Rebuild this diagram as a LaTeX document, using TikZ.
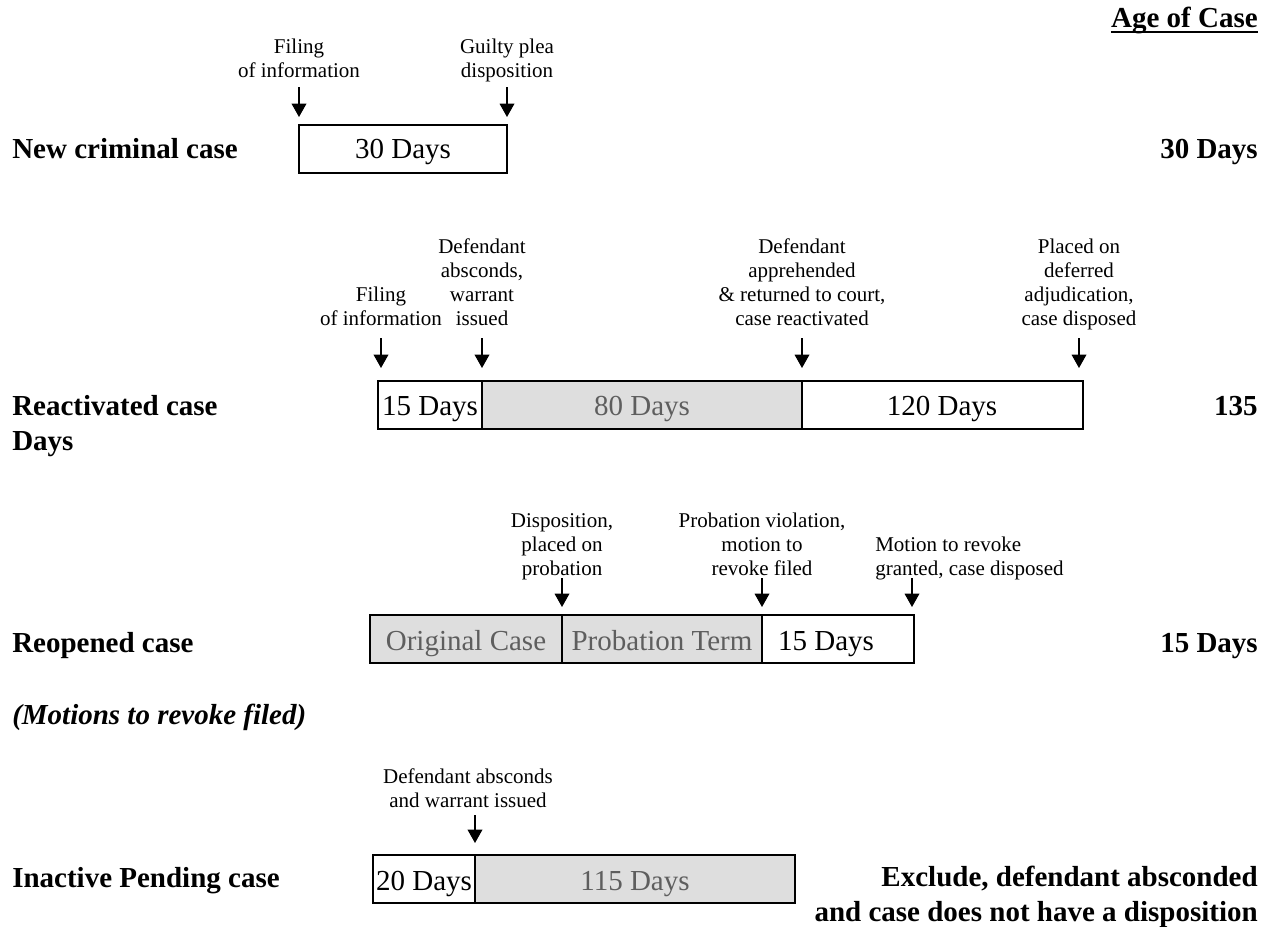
\documentclass[tikz,border=0pt]{standalone}
\usepackage{fontspec}
\setmainfont{Liberation Serif}
\usetikzlibrary{arrows.meta}
\definecolor{cellgray}{HTML}{DEDEDE}
\definecolor{daygray}{HTML}{5E5E5E}
\begin{document}
\begin{tikzpicture}[x=0.75pt,y=-0.75pt,
  lbl/.style={align=center,anchor=base,inner sep=0pt,font=\fontsize{15.75}{18}\selectfont},
  big/.style={anchor=base,inner sep=0pt,font=\fontsize{21.75}{26.25}\selectfont},
  hd/.style={anchor=base west,inner sep=0pt,font=\fontsize{21.75}{26.25}\selectfont\bfseries},
  age/.style={anchor=base east,inner sep=0pt,align=right,font=\fontsize{21.75}{26.25}\selectfont\bfseries},
  cell/.style={draw,line width=1.2pt},
  shade/.style={cell,fill=cellgray},
  pointer/.style={line width=1pt,-{Triangle[width=11pt,length=10pt]}}]
\useasboundingbox (0,0) rectangle (1272,926);
\node[age] (agehd) at (1258,27) {Age of Case};
\draw[line width=1.8pt] ([yshift=-3.8pt]agehd.base west) -- ([yshift=-3.8pt]agehd.base east);
% new criminal case
\node[hd] (newcase) at (12,158) {New criminal case};
\node[age] (newage) at (1258,158) {30 Days};
\draw[cell] (299,125) rectangle (507,173);
\node[big] (new30) at (403,158) {30 Days};
\node[lbl] (newfile) at (299,77) {Filing\\of information};
\node[lbl] (newplea) at (507,77) {Guilty plea\\disposition};
\coordinate (n1a) at (299,87); \coordinate (n1b) at (299,117);
\coordinate (n2a) at (507,87); \coordinate (n2b) at (507,117);
\draw[pointer] (n1a) -- (n1b);
\draw[pointer] (n2a) -- (n2b);
% reactivated case
\node[hd,align=left] (reactcase) at (12,450) {Reactivated case\\Days};
\node[age] (reactage) at (1258,415) {135};
\draw[cell] (378,381) rectangle (482,429);
\draw[shade] (482,381) rectangle (802,429);
\draw[cell] (802,381) rectangle (1083,429);
\node[big] (react15) at (430,415) {15 Days};
\node[big,text=daygray] (react80) at (642,415) {80 Days};
\node[big] (react120) at (942,415) {120 Days};
\node[lbl] (reactfile) at (381,325) {Filing\\of information};
\node[lbl] (reactabs) at (482,325) {Defendant\\absconds,\\warrant\\issued};
\node[lbl] (reactback) at (802,325) {Defendant\\apprehended\\\& returned to court,\\case reactivated};
\node[lbl] (reactdef) at (1079,325) {Placed on\\deferred\\adjudication,\\case disposed};
\coordinate (r1a) at (381,338); \coordinate (r1b) at (381,368);
\coordinate (r2a) at (482,338); \coordinate (r2b) at (482,368);
\coordinate (r3a) at (802,338); \coordinate (r3b) at (802,368);
\coordinate (r4a) at (1079,338); \coordinate (r4b) at (1079,368);
\draw[pointer] (r1a) -- (r1b);
\draw[pointer] (r2a) -- (r2b);
\draw[pointer] (r3a) -- (r3b);
\draw[pointer] (r4a) -- (r4b);
% reopened case
\node[hd] (opencase) at (12,652) {Reopened case};
\node[age] (openage) at (1258,652) {15 Days};
\draw[shade] (370,615) rectangle (562,663);
\draw[shade] (562,615) rectangle (762,663);
\draw[cell] (762,615) rectangle (914,663);
\node[big,text=daygray] (openorig) at (466,650) {Original Case};
\node[big,text=daygray] (openterm) at (662,650) {Probation Term};
\node[big] (open15) at (826,650) {15 Days};
\node[lbl] (openprob) at (562,575) {Disposition,\\placed on\\probation};
\node[lbl] (openviol) at (762,575) {Probation violation,\\motion to\\revoke filed};
\node[lbl,align=left,anchor=base west] (opengrant) at (875,575) {Motion to revoke\\granted, case disposed};
\coordinate (o1a) at (562,578); \coordinate (o1b) at (562,607);
\coordinate (o2a) at (762,578); \coordinate (o2b) at (762,607);
\coordinate (o3a) at (912,578); \coordinate (o3b) at (912,607);
\draw[pointer] (o1a) -- (o1b);
\draw[pointer] (o2a) -- (o2b);
\draw[pointer] (o3a) -- (o3b);
\node[hd,font=\fontsize{21.75}{26.25}\selectfont\bfseries\itshape] (motions) at (12,724) {(Motions to revoke filed)};
% inactive pending case
\node[hd] (pendcase) at (12,887) {Inactive Pending case};
\node[age] (pendage) at (1258,921) {Exclude, defendant absconded\\and case does not have a disposition};
\draw[cell] (373,855) rectangle (475,903);
\draw[shade] (475,855) rectangle (795,903);
\node[big] (pend20) at (424,890) {20 Days};
\node[big,text=daygray] (pend115) at (635,890) {115 Days};
\node[lbl] (pendabs) at (468,807) {Defendant absconds\\and warrant issued};
\coordinate (p1a) at (475,815); \coordinate (p1b) at (475,843);
\draw[pointer] (p1a) -- (p1b);
\end{tikzpicture}
\end{document}
